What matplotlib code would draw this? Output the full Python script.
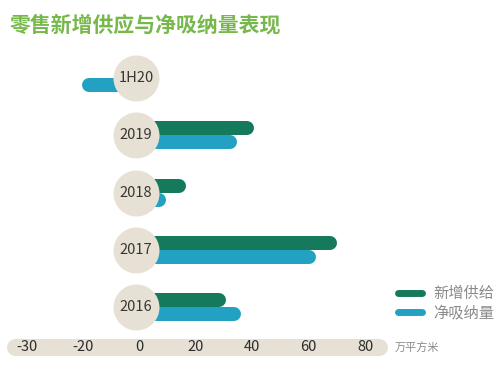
import matplotlib.pyplot as plt
from matplotlib.lines import Line2D

plt.rcParams['font.family'] = ['Noto Sans CJK SC', 'DejaVu Sans']

# data (万平方米)
periods = ["1H20", "2019", "2018", "2017", "2016"]
new_supply = [0, 40.5, 16.5, 70, 30.5]
net_absorption = [-20.5, 34.5, 9.5, 62.5, 36]
tick_pos = [-40, -20, 0, 20, 40, 60, 80]
tick_labels = ["-30", "-20", "0", "20", "40", "60", "80"]

title = "零售新增供应与净吸纳量表现"
legend_names = ["新增供给", "净吸纳量"]
unit = "万平方米"

green = "#15795b"
blue = "#22a1c2"
beige = "#e6e1d4"

W, H = 500, 365
fig = plt.figure(figsize=(W / 100, H / 100), dpi=100)
ax = fig.add_axes([0, 0, 1, 1])
ax.axis("off")

# scale: 0 at x=139.5px, 2.82 px per unit; category spacing 57.25px
px_unit = 2.82
ax.set_xlim(-139.5 / px_unit, (W - 139.5) / px_unit)
ax.set_ylim((H - 78) / 57.25, -78 / 57.25)

bar_px = 14
bar_lw = bar_px * 0.72
cap = bar_px / 2 / px_unit
off = bar_px / 2 / 57.25

for i, (g, b) in enumerate(zip(new_supply, net_absorption)):
    for val, dy, c in ((g, -off, green), (b, off, blue)):
        if val == 0:
            continue
        end = val - cap if val > 0 else val + cap
        ax.plot([0, end], [i + dy, i + dy], color=c, lw=bar_lw,
                solid_capstyle="round", zorder=2)

# circles with period labels
ax.scatter([-1.2] * len(periods), range(len(periods)), s=(46 * 0.72) ** 2,
           color=beige, zorder=3, linewidths=0)
for i, p in enumerate(periods):
    ax.text(-1.2, i, p, ha="center", va="center", fontsize=10.5,
            color="#3b3530", zorder=4)

# axis band
band_y = (346.5 - 78) / 57.25
band_cap = 8.5 / px_unit
ax.plot([-47 + band_cap, 88 - band_cap], [band_y, band_y], color=beige,
        lw=17 * 0.72, solid_capstyle="round", zorder=1)
for tp, tl in zip(tick_pos, tick_labels):
    ax.text(tp, band_y, tl, ha="center", va="center", fontsize=10.5,
            color="#2b2b2b", zorder=2)
ax.text(395 / W, 1 - 347 / H, unit, transform=ax.transAxes, ha="left",
        va="center", fontsize=8, color="#8a8a8a")

# title
fig.text(10 / W, 1 - 25 / H, title, ha="left", va="center", fontsize=15,
         fontweight="bold", color="#76b84a")

# legend
handles = [Line2D([], [], color=green, lw=5, solid_capstyle="round"),
           Line2D([], [], color=blue, lw=5, solid_capstyle="round")]
leg = ax.legend(handles, legend_names, loc="upper left",
                bbox_to_anchor=(398 / W, 1 - 285 / H), frameon=False,
                fontsize=11, handlelength=1.6, handletextpad=0.7,
                labelspacing=0.15, borderaxespad=0, borderpad=0)
for t in leg.get_texts():
    t.set_color("#8a8a8a")

fig.savefig("out.png", dpi=100)
